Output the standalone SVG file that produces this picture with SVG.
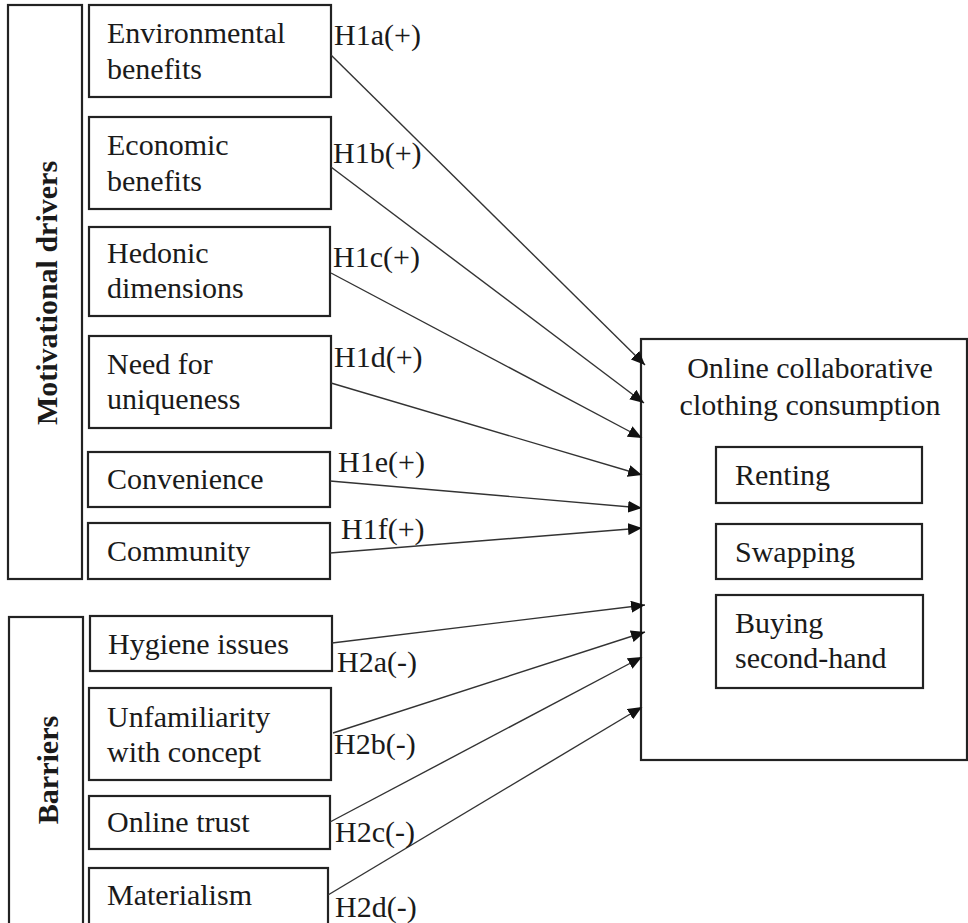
<svg xmlns="http://www.w3.org/2000/svg" width="968" height="923" viewBox="0 0 968 923">
<style>
.box{fill:#fff;stroke:#222;stroke-width:2.2}
.t{font-family:'Liberation Serif','DejaVu Serif',serif;font-size:30px;fill:#1a1a1a}
.g{font-family:'Liberation Serif','DejaVu Serif',serif;font-size:30px;font-weight:bold;fill:#1a1a1a}
.lbl{font-family:'Liberation Serif','DejaVu Serif',serif;font-size:30px;fill:#1a1a1a}
.c{fill:none;stroke:#333;stroke-width:1.4}
</style>
<defs>
<marker id="ah" viewBox="0 0 14 12" refX="14" refY="6" markerWidth="14" markerHeight="12" markerUnits="userSpaceOnUse" orient="auto">
<path d="M0,0 L14,6 L0,12 Z" fill="#111"/>
</marker>
</defs>
<rect width="968" height="923" fill="#fff"/>

<g id="group-motivational">
<rect class="box" x="8" y="5" width="74" height="574"/>
<text class="g" transform="translate(57,293) rotate(-90)" text-anchor="middle">Motivational drivers</text>
</g>
<g id="group-barriers">
<rect class="box" x="9" y="617" width="74" height="320"/>
<text class="g" transform="translate(58,770) rotate(-90)" text-anchor="middle">Barriers</text>
</g>

<g id="n-env"><rect class="box" x="89" y="5" width="242" height="92"/><text class="t" x="107" y="43">Environmental</text><text class="t" x="107" y="79">benefits</text></g>
<g id="n-eco"><rect class="box" x="89" y="117" width="242" height="92"/><text class="t" x="107" y="155">Economic</text><text class="t" x="107" y="191">benefits</text></g>
<g id="n-hed"><rect class="box" x="89" y="227" width="241" height="89"/><text class="t" x="107" y="263">Hedonic</text><text class="t" x="107" y="298">dimensions</text></g>
<g id="n-need"><rect class="box" x="89" y="336" width="242" height="92"/><text class="t" x="107" y="374">Need for</text><text class="t" x="107" y="409">uniqueness</text></g>
<g id="n-conv"><rect class="box" x="88" y="452" width="242" height="55"/><text class="t" x="107" y="489">Convenience</text></g>
<g id="n-comm"><rect class="box" x="88" y="523" width="242" height="56"/><text class="t" x="107" y="561">Community</text></g>
<g id="n-hyg"><rect class="box" x="90" y="616" width="242" height="55"/><text class="t" x="108" y="654">Hygiene issues</text></g>
<g id="n-unf"><rect class="box" x="89" y="688" width="242" height="92"/><text class="t" x="107" y="727">Unfamiliarity</text><text class="t" x="107" y="762">with concept</text></g>
<g id="n-trust"><rect class="box" x="89" y="796" width="241" height="53"/><text class="t" x="107" y="832">Online trust</text></g>
<g id="n-mat"><rect class="box" x="89" y="868" width="239" height="70"/><text class="t" x="107" y="905">Materialism</text></g>

<g id="n-occ">
<rect class="box" x="641" y="339" width="326" height="421"/>
<text class="t" x="810" y="378" text-anchor="middle">Online collaborative</text>
<text class="t" x="810" y="415" text-anchor="middle">clothing consumption</text>
</g>
<g id="n-rent"><rect class="box" x="716" y="447" width="206" height="56"/><text class="t" x="735" y="485">Renting</text></g>
<g id="n-swap"><rect class="box" x="716" y="524" width="206" height="55"/><text class="t" x="735" y="562">Swapping</text></g>
<g id="n-buy"><rect class="box" x="716" y="595" width="207" height="93"/><text class="t" x="735" y="633">Buying</text><text class="t" x="735" y="668">second-hand</text></g>

<g id="connectors">
<line class="c" x1="331" y1="55" x2="645" y2="365" marker-end="url(#ah)"/>
<line class="c" x1="331" y1="167" x2="644" y2="403" marker-end="url(#ah)"/>
<line class="c" x1="331" y1="273" x2="642" y2="438" marker-end="url(#ah)"/>
<line class="c" x1="331" y1="383" x2="642" y2="475" marker-end="url(#ah)"/>
<line class="c" x1="330" y1="481" x2="642" y2="508" marker-end="url(#ah)"/>
<line class="c" x1="330" y1="553" x2="642" y2="528" marker-end="url(#ah)"/>
<line class="c" x1="332" y1="643" x2="645" y2="605" marker-end="url(#ah)"/>
<line class="c" x1="333" y1="733" x2="645" y2="632" marker-end="url(#ah)"/>
<line class="c" x1="330" y1="822" x2="642" y2="657" marker-end="url(#ah)"/>
<line class="c" x1="328" y1="895" x2="642" y2="707" marker-end="url(#ah)"/>
</g>

<g id="labels">
<text class="lbl" x="334" y="45">H1a(+)</text>
<text class="lbl" x="333" y="163">H1b(+)</text>
<text class="lbl" x="333" y="267">H1c(+)</text>
<text class="lbl" x="334" y="367">H1d(+)</text>
<text class="lbl" x="338" y="472">H1e(+)</text>
<text class="lbl" x="341" y="539">H1f(+)</text>
<text class="lbl" x="337" y="672">H2a(-)</text>
<text class="lbl" x="334" y="754">H2b(-)</text>
<text class="lbl" x="335" y="842">H2c(-)</text>
<text class="lbl" x="335" y="917">H2d(-)</text>
</g>
</svg>
